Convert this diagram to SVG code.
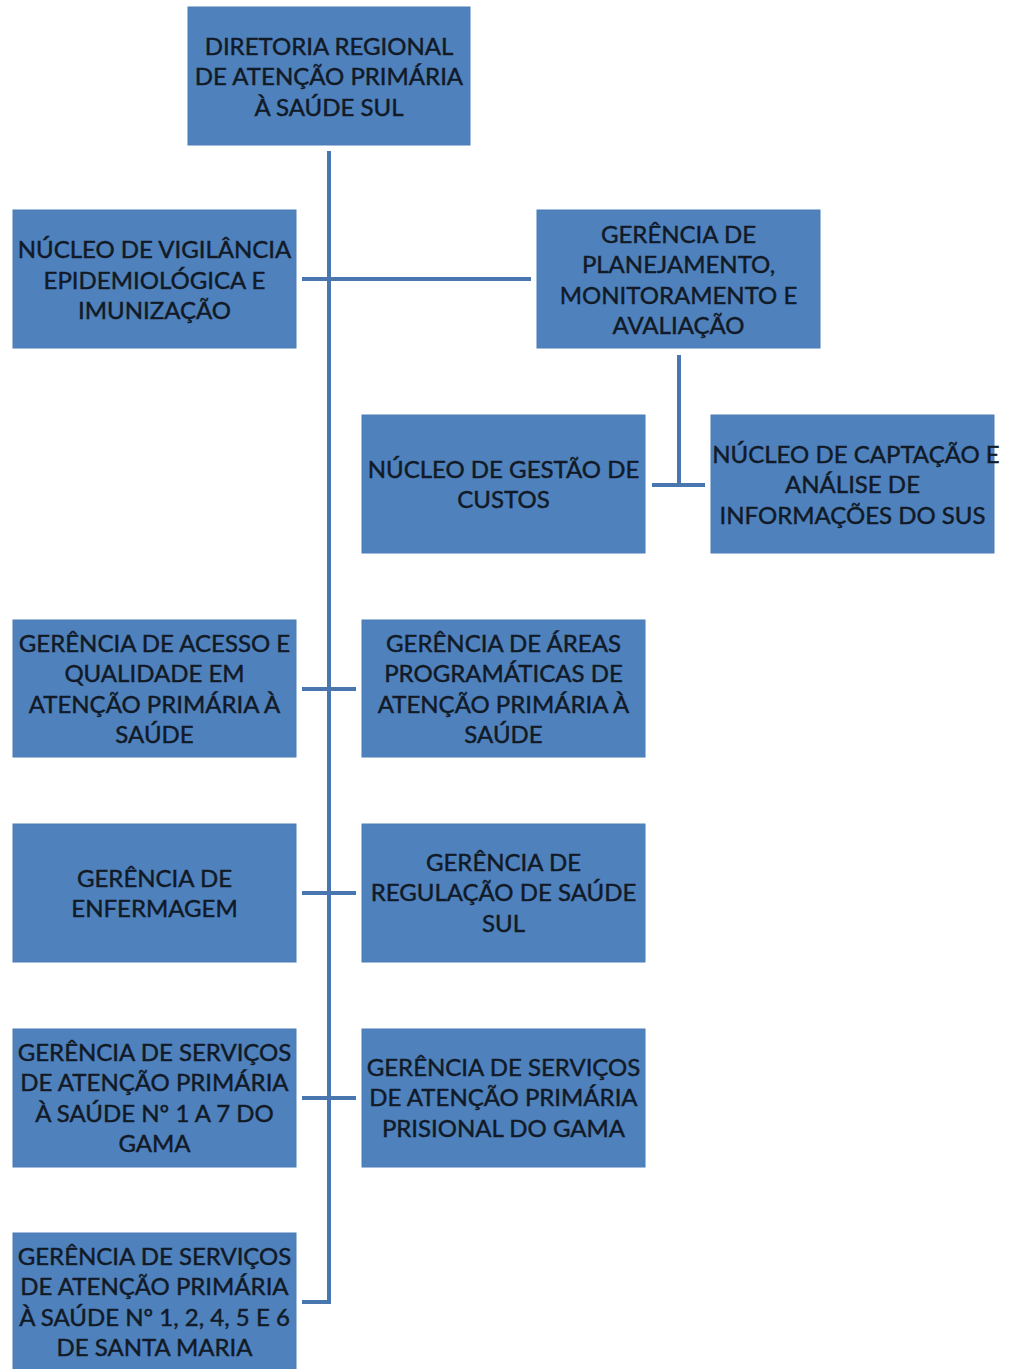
<svg xmlns="http://www.w3.org/2000/svg" width="1010" height="1369" viewBox="0 0 1010 1369">
<style>
.box{fill:#4F81BD;stroke:#4A7CB8;stroke-width:1}
.t{font-family:Lato,"Open Sans",sans-serif;font-size:24px;fill:#111A26;stroke:#111A26;stroke-width:0.45;text-anchor:middle}
.ln{stroke:#4A76AF;stroke-width:4;fill:none}
</style>
<rect width="1010" height="1369" fill="#ffffff"/>
<g id="connectors">
<path class="ln" d="M329,151 V1302 H302"/>
<path class="ln" d="M302,279 H531"/>
<path class="ln" d="M679,355 V485"/>
<path class="ln" d="M652,485 H705"/>
<path class="ln" d="M302,689 H356"/>
<path class="ln" d="M302,893 H356"/>
<path class="ln" d="M302,1098 H356"/>
</g>
<g id="n-diretoria">
<rect class="box" x="188" y="7" width="282" height="138"/>
<text class="t" x="329" y="55">DIRETORIA REGIONAL</text>
<text class="t" x="329" y="85">DE ATENÇÃO PRIMÁRIA</text>
<text class="t" x="329" y="116">À SAÚDE SUL</text>
</g>
<g id="n-vigilancia">
<rect class="box" x="13" y="210" width="283" height="138"/>
<text class="t" x="154.5" y="258">NÚCLEO DE VIGILÂNCIA</text>
<text class="t" x="154.5" y="289">EPIDEMIOLÓGICA E</text>
<text class="t" x="154.5" y="319">IMUNIZAÇÃO</text>
</g>
<g id="n-planejamento">
<rect class="box" x="537" y="210" width="283" height="138"/>
<text class="t" x="678.5" y="243">GERÊNCIA DE</text>
<text class="t" x="678.5" y="273">PLANEJAMENTO,</text>
<text class="t" x="678.5" y="304">MONITORAMENTO E</text>
<text class="t" x="678.5" y="334">AVALIAÇÃO</text>
</g>
<g id="n-custos">
<rect class="box" x="362" y="415" width="283" height="138"/>
<text class="t" x="503.5" y="478">NÚCLEO DE GESTÃO DE</text>
<text class="t" x="503.5" y="508">CUSTOS</text>
</g>
<g id="n-captacao">
<rect class="box" x="711" y="415" width="283" height="138"/>
<text class="t" x="856" y="463">NÚCLEO DE CAPTAÇÃO E</text>
<text class="t" x="852.5" y="493">ANÁLISE DE</text>
<text class="t" x="852.5" y="524">INFORMAÇÕES DO SUS</text>
</g>
<g id="n-acesso">
<rect class="box" x="13" y="620" width="283" height="137"/>
<text class="t" x="154.5" y="652">GERÊNCIA DE ACESSO E</text>
<text class="t" x="154.5" y="682">QUALIDADE EM</text>
<text class="t" x="154.5" y="713">ATENÇÃO PRIMÁRIA À</text>
<text class="t" x="154.5" y="743">SAÚDE</text>
</g>
<g id="n-areas">
<rect class="box" x="362" y="620" width="283" height="137"/>
<text class="t" x="503.5" y="652">GERÊNCIA DE ÁREAS</text>
<text class="t" x="503.5" y="682">PROGRAMÁTICAS DE</text>
<text class="t" x="503.5" y="713">ATENÇÃO PRIMÁRIA À</text>
<text class="t" x="503.5" y="743">SAÚDE</text>
</g>
<g id="n-enfermagem">
<rect class="box" x="13" y="824" width="283" height="138"/>
<text class="t" x="154.5" y="887">GERÊNCIA DE</text>
<text class="t" x="154.5" y="917">ENFERMAGEM</text>
</g>
<g id="n-regulacao">
<rect class="box" x="362" y="824" width="283" height="138"/>
<text class="t" x="503.5" y="871">GERÊNCIA DE</text>
<text class="t" x="503.5" y="901">REGULAÇÃO DE SAÚDE</text>
<text class="t" x="503.5" y="932">SUL</text>
</g>
<g id="n-gama">
<rect class="box" x="13" y="1029" width="283" height="138"/>
<text class="t" x="154.5" y="1061">GERÊNCIA DE SERVIÇOS</text>
<text class="t" x="154.5" y="1091">DE ATENÇÃO PRIMÁRIA</text>
<text class="t" x="154.5" y="1122">À SAÚDE Nº 1 A 7 DO</text>
<text class="t" x="154.5" y="1152">GAMA</text>
</g>
<g id="n-prisional">
<rect class="box" x="362" y="1029" width="283" height="138"/>
<text class="t" x="503.5" y="1076">GERÊNCIA DE SERVIÇOS</text>
<text class="t" x="503.5" y="1106">DE ATENÇÃO PRIMÁRIA</text>
<text class="t" x="503.5" y="1137">PRISIONAL DO GAMA</text>
</g>
<g id="n-santamaria">
<rect class="box" x="13" y="1233" width="283" height="140"/>
<text class="t" x="154.5" y="1265">GERÊNCIA DE SERVIÇOS</text>
<text class="t" x="154.5" y="1295">DE ATENÇÃO PRIMÁRIA</text>
<text class="t" x="154.5" y="1326">À SAÚDE Nº 1, 2, 4, 5 E 6</text>
<text class="t" x="154.5" y="1356">DE SANTA MARIA</text>
</g>
</svg>
